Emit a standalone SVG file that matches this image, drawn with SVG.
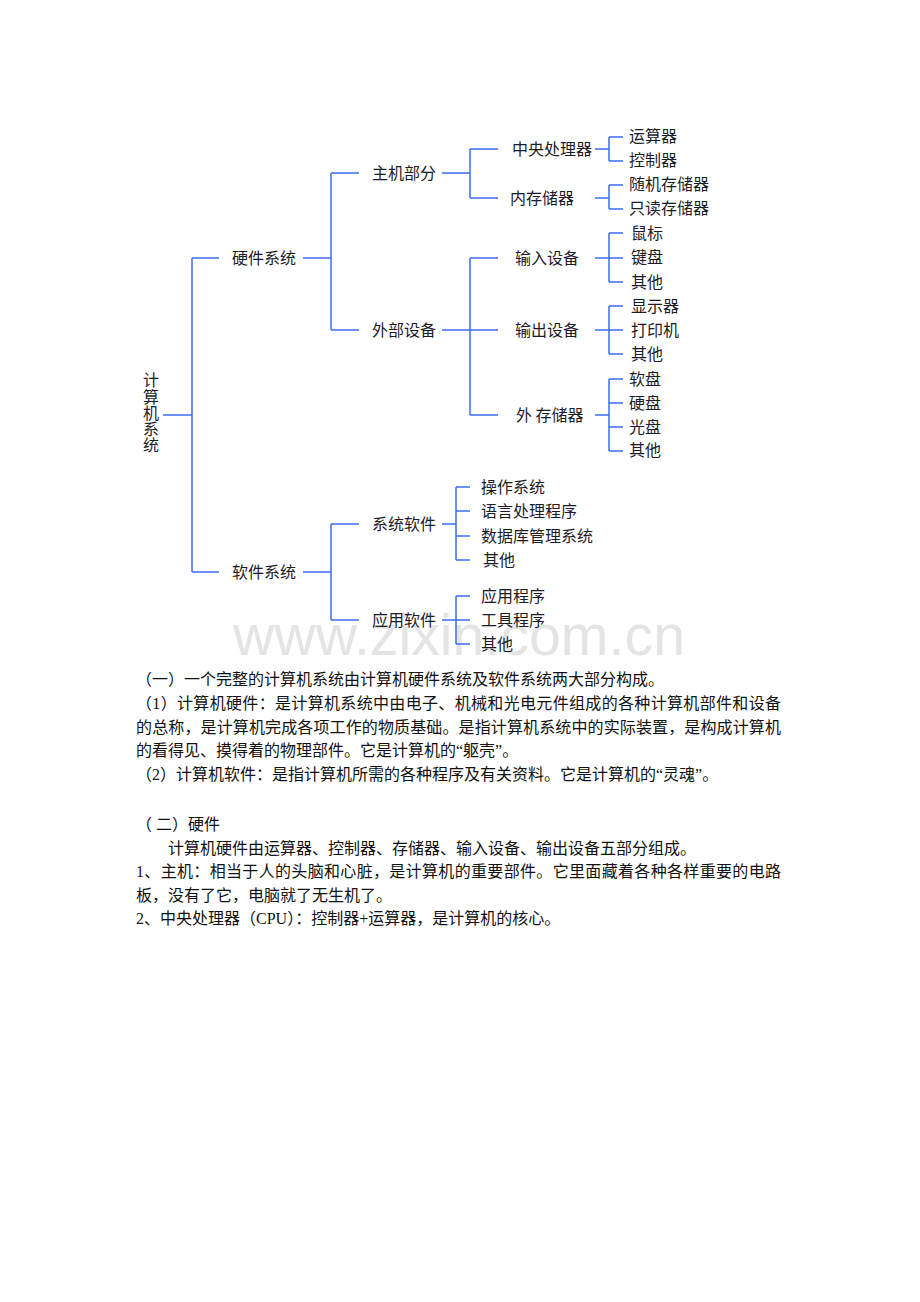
<svg xmlns="http://www.w3.org/2000/svg" width="920" height="1302" viewBox="0 0 920 1302">
<style>
.n{font-family:"Noto Sans CJK SC","Noto Sans",sans-serif;font-size:16px;fill:#1c1c28}
.b{font-family:"Liberation Serif","Noto Sans CJK SC",serif;font-size:16px;fill:#111}
.c{stroke:#3b6ef5;stroke-width:1.5;fill:none}
.wm{font-family:"Liberation Sans",Arial,sans-serif;font-size:57px;fill:#e4e4e4}
</style>
<rect width="920" height="1302" fill="#fff"/>
<text class="wm" x="233" y="655" textLength="452" lengthAdjust="spacingAndGlyphs">www.zixin.com.cn</text>
<g id="connectors" class="c">
<path d="M163 415H192M192 258V572M192 258H219M192 572H219"/>
<path d="M303 258H331M331 173V330M331 173H359M331 330H359"/>
<path d="M442 173H470M470 149V198M470 149H498M470 198H498"/>
<path d="M442 330H498M470 258V415M470 258H498M470 415H498"/>
<path d="M595 149H609M609 137V161M609 137H623M609 161H623"/>
<path d="M595 198H609M609 185V209M609 185H623M609 209H623"/>
<path d="M595 258H623M609 233V282M609 233H623M609 282H623"/>
<path d="M595 330H623M609 306V354M609 306H623M609 354H623"/>
<path d="M595 415H609M609 379V451M609 379H623M609 403H623M609 427H623M609 451H623"/>
<path d="M303 572H331M331 524V620M331 524H359M331 620H359"/>
<path d="M442 524H456M456 487V560M456 487H470M456 511H470M456 536H470M456 560H470"/>
<path d="M442 620H470M456 596V644M456 596H470M456 644H470"/>
</g>
<g id="root"><text class="n" x="151" text-anchor="middle"><tspan x="151" y="386">计</tspan><tspan x="151" y="402.5">算</tspan><tspan x="151" y="419">机</tspan><tspan x="151" y="435">系</tspan><tspan x="151" y="451">统</tspan></text></g>
<g id="hardware"><text class="n" x="232" y="264">硬件系统</text></g>
<g id="software"><text class="n" x="232" y="578">软件系统</text></g>
<g id="host"><text class="n" x="372" y="179">主机部分</text></g>
<g id="peripheral"><text class="n" x="372" y="336">外部设备</text></g>
<g id="cpu"><text class="n" x="512" y="155">中央处理器</text></g>
<g id="memory"><text class="n" x="510" y="204">内存储器</text></g>
<g id="input"><text class="n" x="515" y="264">输入设备</text></g>
<g id="output"><text class="n" x="515" y="336">输出设备</text></g>
<g id="storage"><text class="n" x="516" y="421">外 存储器</text></g>
<g id="alu"><text class="n" x="629" y="142">运算器</text></g>
<g id="ctrl"><text class="n" x="629" y="166">控制器</text></g>
<g id="ram"><text class="n" x="629" y="190">随机存储器</text></g>
<g id="rom"><text class="n" x="629" y="214">只读存储器</text></g>
<g id="mouse"><text class="n" x="631" y="239">鼠标</text></g>
<g id="keyboard"><text class="n" x="631" y="263">键盘</text></g>
<g id="in-other"><text class="n" x="631" y="288">其他</text></g>
<g id="display"><text class="n" x="631" y="312">显示器</text></g>
<g id="printer"><text class="n" x="631" y="336">打印机</text></g>
<g id="out-other"><text class="n" x="631" y="360">其他</text></g>
<g id="floppy"><text class="n" x="629" y="385">软盘</text></g>
<g id="hdd"><text class="n" x="629" y="409">硬盘</text></g>
<g id="cd"><text class="n" x="629" y="433">光盘</text></g>
<g id="st-other"><text class="n" x="629" y="456">其他</text></g>
<g id="syssoft"><text class="n" x="372" y="530">系统软件</text></g>
<g id="appsoft"><text class="n" x="372" y="626">应用软件</text></g>
<g id="os"><text class="n" x="481" y="493">操作系统</text></g>
<g id="lang"><text class="n" x="481" y="517">语言处理程序</text></g>
<g id="dbms"><text class="n" x="481" y="542">数据库管理系统</text></g>
<g id="ss-other"><text class="n" x="483" y="566">其他</text></g>
<g id="apps"><text class="n" x="481" y="602">应用程序</text></g>
<g id="tools"><text class="n" x="481" y="626">工具程序</text></g>
<g id="as-other"><text class="n" x="481" y="650">其他</text></g>
<g id="body">
<text class="b" x="136" y="685">（一）一个完整的计算机系统由计算机硬件系统及软件系统两大部分构成。</text>
<text class="b" x="136" y="709" textLength="645" lengthAdjust="spacing">（1）计算机硬件：是计算机系统中由电子、机械和光电元件组成的各种计算机部件和设备</text>
<text class="b" x="136" y="733" textLength="645" lengthAdjust="spacing">的总称，是计算机完成各项工作的物质基础。是指计算机系统中的实际装置，是构成计算机</text>
<text class="b" x="136" y="756">的看得见、摸得着的物理部件。它是计算机的“躯壳”。</text>
<text class="b" x="136" y="780">（2）计算机软件：是指计算机所需的各种程序及有关资料。它是计算机的“灵魂”。</text>
<text class="b" x="136" y="830">（ 二）硬件</text>
<text class="b" x="168" y="854">计算机硬件由运算器、控制器、存储器、输入设备、输出设备五部分组成。</text>
<text class="b" x="136" y="877" textLength="645" lengthAdjust="spacing">1、主机：相当于人的头脑和心脏，是计算机的重要部件。它里面藏着各种各样重要的电路</text>
<text class="b" x="136" y="901">板，没有了它，电脑就了无生机了。</text>
<text class="b" x="136" y="924">2、中央处理器（CPU）：控制器+运算器，是计算机的核心。</text>
</g>
</svg>
